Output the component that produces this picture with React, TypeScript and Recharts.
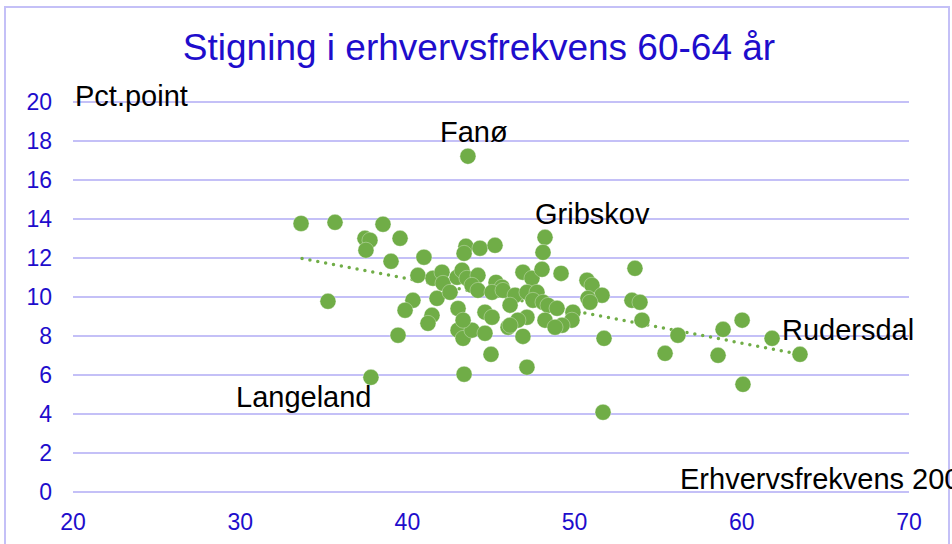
import React from 'react';
import { ScatterChart, Scatter, XAxis, YAxis, CartesianGrid, ReferenceLine } from 'recharts';

// Erhvervsfrekvens 2000 (x) for each kommune
const erhvervsfrekvens2000 = [
  33.64, 35.67, 38.54, 37.46, 37.76, 37.52, 39.56, 39.02, 35.25, 37.82,
  39.44, 40.99, 40.63, 40.33, 39.86, 41.77, 41.47, 41.23, 43.03, 43.39,
  43.03, 43.33, 43.86, 43.33, 43.5, 43.39, 44.34, 45.24, 41.53, 42.07,
  42.13, 42.55, 42.97, 43.27, 43.56, 44.22, 43.86, 44.22, 45.3, 45.66,
  45.06, 44.64, 45.06, 44.64, 46.02, 45.0, 48.23, 48.11, 46.91, 47.45,
  48.05, 49.19, 50.74, 51.04, 51.64, 50.8, 50.92, 45.72, 46.44, 46.14,
  47.15, 47.75, 47.51, 48.11, 48.41, 48.95, 49.9, 49.84, 49.25, 48.23,
  48.83, 47.15, 46.61, 46.14, 46.91, 47.15, 51.76, 51.7, 53.61, 53.43,
  53.91, 54.03, 56.18, 55.41, 58.88, 60.02, 58.58, 61.81, 63.48, 60.07,
  43.62,
];

// Stigning i erhvervsfrekvens 60-64 år, pct.point (y)
const stigning = [
  13.77, 13.83, 13.73, 13.01, 12.91, 12.4, 13.01, 11.83, 9.78, 5.88,
  8.04, 12.04, 11.11, 9.83, 9.32, 9.93, 9.06, 8.65, 9.41, 6.04,
  8.3, 7.88, 8.3, 8.81, 12.6, 12.24, 12.5, 12.65, 10.96, 11.27,
  10.7, 10.24, 11.01, 11.37, 10.96, 11.11, 10.6, 10.34, 10.75, 10.5,
  10.24, 9.22, 8.96, 8.14, 8.45, 7.06, 13.06, 12.29, 11.27, 10.96,
  11.42, 11.21, 10.86, 10.6, 10.09, 9.93, 9.73, 10.34, 10.09, 9.58,
  10.24, 10.24, 9.83, 9.73, 9.57, 9.42, 9.22, 8.81, 8.55, 8.81,
  8.45, 8.96, 8.81, 8.55, 7.98, 6.4, 7.88, 4.09, 11.47, 9.83,
  9.73, 8.81, 8.04, 7.11, 8.34, 8.81, 7.01, 7.88, 7.06, 5.52,
  17.22,
];

const xTicks = [20, 30, 40, 50, 60, 70];
const yTicks = [0, 2, 4, 6, 8, 10, 12, 14, 16, 18, 20];

// Linear trendline end points
const trendX = [33.7, 63.48];
const trendY = [11.98, 7.06];

const points = erhvervsfrekvens2000.map((x, i) => ({ x, y: stigning[i] }));

const FONT = '"Liberation Sans", Arial, sans-serif';
const BLUE = '#1E0DCC';
const GREEN = '#70AD47';
const GRID = '#C4C0F7';

const Dot = (p: any) => (
  <circle cx={p.cx} cy={p.cy} r={8} fill={GREEN} stroke="#ffffff" strokeOpacity={0.45} strokeWidth={0.7} />
);

export default function App() {
  return (
    <div style={{ position: 'absolute', left: 0, top: 0, width: 952, height: 544, background: '#ffffff', overflow: 'hidden', fontFamily: FONT }}>
      <ScatterChart width={952} height={544} margin={{ top: 102, right: 43, bottom: 0, left: 13 }}>
        <CartesianGrid vertical={false} stroke={GRID} strokeWidth={2} />
        <XAxis
          type="number"
          dataKey="x"
          domain={[20, 70]}
          ticks={xTicks}
          axisLine={false}
          tickLine={false}
          tickSize={0}
          tickMargin={22}
          height={52}
          interval={0}
          tick={{ fill: BLUE, fontSize: 23, fontFamily: FONT }}
        />
        <YAxis
          type="number"
          dataKey="y"
          domain={[0, 20]}
          ticks={yTicks}
          axisLine={false}
          tickLine={false}
          tickSize={0}
          tickMargin={21}
          width={60}
          interval={0}
          tick={{ fill: BLUE, fontSize: 23, fontFamily: FONT }}
        />
        <ReferenceLine
          segment={[{ x: trendX[0], y: trendY[0] }, { x: trendX[1], y: trendY[1] }]}
          stroke={GREEN}
          strokeWidth={3.5}
          strokeDasharray="0 8"
          strokeLinecap="round"
        />
        <Scatter data={points} shape={Dot} isAnimationActive={false} />
      </ScatterChart>
      <svg width={952} height={544} style={{ position: 'absolute', left: 0, top: 0, pointerEvents: 'none' }}>
        <rect x={5} y={7} width={944} height={600} fill="none" stroke={GRID} strokeWidth={2} />
        <text x={479} y={60} textAnchor="middle" fill={BLUE} fontSize={37} fontFamily={FONT}>
          Stigning i erhvervsfrekvens 60-64 år
        </text>
        <text x={75} y={106} fill="#000" fontSize={29} fontFamily={FONT}>Pct.point</text>
        <text x={440} y={142} fill="#000" fontSize={29} fontFamily={FONT}>Fanø</text>
        <text x={535} y={224} fill="#000" fontSize={29} fontFamily={FONT}>Gribskov</text>
        <text x={782} y={340} fill="#000" fontSize={29} fontFamily={FONT}>Rudersdal</text>
        <text x={236} y={407} fill="#000" fontSize={29} fontFamily={FONT}>Langeland</text>
        <text x={680} y={489} fill="#000" fontSize={29} fontFamily={FONT}>Erhvervsfrekvens 2000</text>
      </svg>
    </div>
  );
}
